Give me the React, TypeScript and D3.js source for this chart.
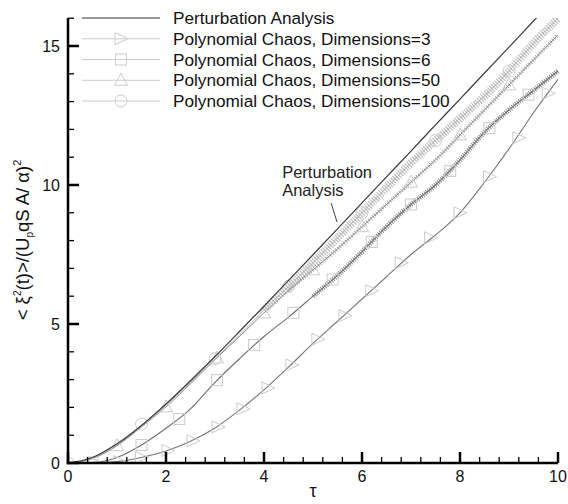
import React from "react";
import * as d3 from "d3";

// ---- data ----
const TAU = [0, 0.5, 1, 1.5, 2, 2.5, 3, 3.5, 4, 4.5, 5, 5.5, 6, 6.5, 7, 7.5, 8, 8.5, 9, 9.5, 10];
const PERTURBATION = [0, 0.2, 0.69, 1.35, 2.12, 2.96, 3.83, 4.73, 5.64, 6.57, 7.49, 8.42, 9.36, 10.29, 11.22, 12.16, 13.09, 14.03, 14.96, 15.9, 16.83];
const PC_DIM3 = [0, 0, 0.05, 0.2, 0.43, 0.78, 1.26, 1.9, 2.63, 3.45, 4.3, 5.1, 5.9, 6.7, 7.5, 8.2, 9.0, 10.1, 11.3, 12.6, 13.8];
const PC_DIM6 = [0, 0.02, 0.2, 0.65, 1.25, 1.95, 2.9, 3.75, 4.55, 5.25, 6.0, 6.75, 7.6, 8.5, 9.3, 10.0, 10.9, 11.9, 12.7, 13.4, 14.1];
const PC_DIM50 = [0, 0.16, 0.62, 1.3, 2.02, 2.85, 3.72, 4.55, 5.4, 6.2, 6.95, 7.7, 8.5, 9.3, 10.1, 10.9, 11.8, 12.7, 13.6, 14.5, 15.4];
const PC_DIM100 = [0, 0.17, 0.65, 1.35, 2.08, 2.9, 3.75, 4.6, 5.5, 6.35, 7.2, 8.1, 9.0, 9.9, 10.8, 11.6, 12.4, 13.2, 14.1, 15.1, 16.0];

// marker positions [tau, value]
const MARK_DIM3: [number, number][] = [[0.55, 0], [1.05, 0.05], [1.5, 0.2], [2.04, 0.45], [2.55, 0.8], [3.06, 1.3], [3.57, 1.95], [4.08, 2.7], [4.57, 3.53], [5.1, 4.45], [5.65, 5.3], [6.2, 6.2], [6.8, 7.2], [7.4, 8.1], [8.0, 9.0], [8.6, 10.3], [9.2, 11.7], [9.8, 13.3]];
const MARK_DIM6: [number, number][] = [[0.5, 0.02], [1.5, 0.65], [2.27, 1.58], [3.04, 2.98], [3.8, 4.24], [4.6, 5.4], [5.4, 6.6], [6.2, 7.95], [7.0, 9.3], [7.8, 10.5], [8.6, 12.05], [9.4, 13.25]];
const MARK_DIM50: [number, number][] = [[1.0, 0.62], [2.0, 2.02], [3.04, 3.78], [4.0, 5.4], [5.0, 6.95], [6.0, 8.5], [7.0, 10.1], [8.0, 11.8], [9.0, 13.6]];
const MARK_DIM100: [number, number][] = [[0, 0], [1.5, 1.4], [3.0, 3.75], [4.5, 6.35], [6.0, 9.0], [7.5, 11.6], [9.0, 14.1]];

const X_TICKS = [0, 2, 4, 6, 8, 10];
const Y_TICKS = [0, 5, 10, 15];
const LEGEND_LABELS = [
  "Perturbation Analysis",
  "Polynomial Chaos, Dimensions=3",
  "Polynomial Chaos, Dimensions=6",
  "Polynomial Chaos, Dimensions=50",
  "Polynomial Chaos, Dimensions=100",
];

const FONT = "'Liberation Sans', Arial, Helvetica, sans-serif";

export default function App() {
  const W = 568, H = 504;
  const x = d3.scaleLinear().domain([0, 10]).range([68, 558]);
  const y = d3.scaleLinear().domain([0, 16]).range([463, 18.2]);

  const pts = (vals: number[]) => TAU.map((t, i) => [t, vals[i]] as [number, number]);
  const line = d3.line<[number, number]>().x(d => x(d[0])).y(d => y(d[1])).curve(d3.curveMonotoneX);
  const band = (vals: number[], from: number) => line(pts(vals).filter(d => d[0] >= from)) || "";

  const xMinor = d3.range(0, 10.001, 0.4).filter(v => Math.abs(v / 2 - Math.round(v / 2)) > 1e-6);
  const yMinor = d3.range(0, 16.001, 1).filter(v => v % 5 !== 0);

  const markerColor = "#cbcbcb";
  const tri = (cx: number, cy: number, k: number) => (
    <path key={k} d={`M${cx - 6},${cy - 6}L${cx + 7},${cy}L${cx - 6},${cy + 6}Z`} fill="none" stroke={markerColor} strokeWidth={1} />
  );
  const triUp = (cx: number, cy: number, k: number) => (
    <path key={k} d={`M${cx},${cy - 7}L${cx + 6.5},${cy + 5}L${cx - 6.5},${cy + 5}Z`} fill="none" stroke={markerColor} strokeWidth={1} />
  );
  const sq = (cx: number, cy: number, k: number) => (
    <rect key={k} x={cx - 5.5} y={cy - 5.5} width={11} height={11} fill="none" stroke={markerColor} strokeWidth={1} />
  );
  const circ = (cx: number, cy: number, k: number) => (
    <circle key={k} cx={cx} cy={cy} r={6} fill="none" stroke={markerColor} strokeWidth={1} />
  );

  const legendY = (i: number) => 18 + i * 20.75;
  const legendSym = [null, tri, sq, triUp, circ];

  return (
    <svg width={W} height={H} style={{ position: "absolute", left: 0, top: 0, background: "#fff" }} fontFamily={FONT}>
      <defs>
        <clipPath id="plot">
          <rect x={68} y={18} width={492} height={446} />
        </clipPath>
      </defs>

      <g clipPath="url(#plot)">
        {/* noisy bands of the polynomial chaos runs */}
        <path d={band(PC_DIM100, 4)} fill="none" stroke="#bdbdbd" strokeWidth={8} strokeDasharray="1.2 1.3" />
        <path d={band(PC_DIM50, 4.5)} fill="none" stroke="#a9a9a9" strokeWidth={4} strokeDasharray="1 1.6" />
        <path d={band(PC_DIM6, 5)} fill="none" stroke="#8a8a8a" strokeWidth={5} strokeDasharray="1 1.2" />
        <path d={line(pts(PC_DIM100)) || ""} fill="none" stroke="#b0b0b0" strokeWidth={1} />
        <path d={line(pts(PC_DIM50)) || ""} fill="none" stroke="#8e8e8e" strokeWidth={1} />
        <path d={line(pts(PC_DIM6)) || ""} fill="none" stroke="#6f6f6f" strokeWidth={1.1} />
        <path d={line(pts(PC_DIM3)) || ""} fill="none" stroke="#777" strokeWidth={1.1} />

        {MARK_DIM3.map((d, i) => tri(x(d[0]), y(d[1]), i))}
        {MARK_DIM6.map((d, i) => sq(x(d[0]), y(d[1]), i))}
        {MARK_DIM50.map((d, i) => triUp(x(d[0]), y(d[1]), i))}
        {MARK_DIM100.map((d, i) => circ(x(d[0]), y(d[1]), i))}

        <path d={line(pts(PERTURBATION)) || ""} fill="none" stroke="#3a3a3a" strokeWidth={1.2} />
      </g>

      {/* annotation */}
      <text x={x(4.37)} y={y(10.25)} fontSize={16.5} fill="#222">Perturbation</text>
      <text x={x(4.37)} y={y(9.6)} fontSize={16.5} fill="#222">Analysis</text>
      <line x1={x(5.37)} y1={y(9.35)} x2={x(5.49)} y2={y(8.67)} stroke="#444" strokeWidth={1} />

      {/* legend */}
      {LEGEND_LABELS.map((lab, i) => {
        const ly = legendY(i);
        const sym = legendSym[i];
        return (
          <g key={lab}>
            <line x1={82} x2={160} y1={ly} y2={ly} stroke={i === 0 ? "#333" : "#cccccc"} strokeWidth={1} />
            {sym ? sym(121, ly, i) : null}
            <text x={173} y={ly + 6} fontSize={17.2} fill="#111">{lab}</text>
          </g>
        );
      })}

      {/* axes */}
      <line x1={68} x2={68} y1={18} y2={464.2} stroke="#000" strokeWidth={2.5} />
      <line x1={66.8} x2={558} y1={463} y2={463} stroke="#000" strokeWidth={2.5} />
      {X_TICKS.map(t => (
        <g key={"xt" + t}>
          <line x1={x(t)} x2={x(t)} y1={463} y2={452} stroke="#000" strokeWidth={2.5} />
          <text x={x(t)} y={482} fontSize={16} textAnchor="middle" fill="#111">{t}</text>
        </g>
      ))}
      {xMinor.map(t => (
        <line key={"xm" + t} x1={x(t)} x2={x(t)} y1={463} y2={457} stroke="#000" strokeWidth={1.3} />
      ))}
      {Y_TICKS.map(t => (
        <g key={"yt" + t}>
          <line x1={68} x2={79} y1={y(t)} y2={y(t)} stroke="#000" strokeWidth={2.5} />
          <text x={60} y={y(t) + 5.8} fontSize={16} textAnchor="end" fill="#111">{t}</text>
        </g>
      ))}
      {yMinor.map(t => (
        <line key={"ym" + t} x1={68} x2={74} y1={y(t)} y2={y(t)} stroke="#000" strokeWidth={1.3} />
      ))}

      {/* axis titles */}
      <text x={313} y={497} fontSize={18} textAnchor="middle" fill="#111">τ</text>
      <text transform="translate(29,240) rotate(-90)" fontSize={18.5} textAnchor="middle" fill="#111">
        <tspan>{"< ξ"}</tspan>
        <tspan fontSize={10} dy={-8}>2</tspan>
        <tspan dy={8}>{"(t)>/(U"}</tspan>
        <tspan fontSize={10} dy={4}>p</tspan>
        <tspan dy={-4}>{"qS A/ α)"}</tspan>
        <tspan fontSize={11} dy={-8}>2</tspan>
      </text>
    </svg>
  );
}
